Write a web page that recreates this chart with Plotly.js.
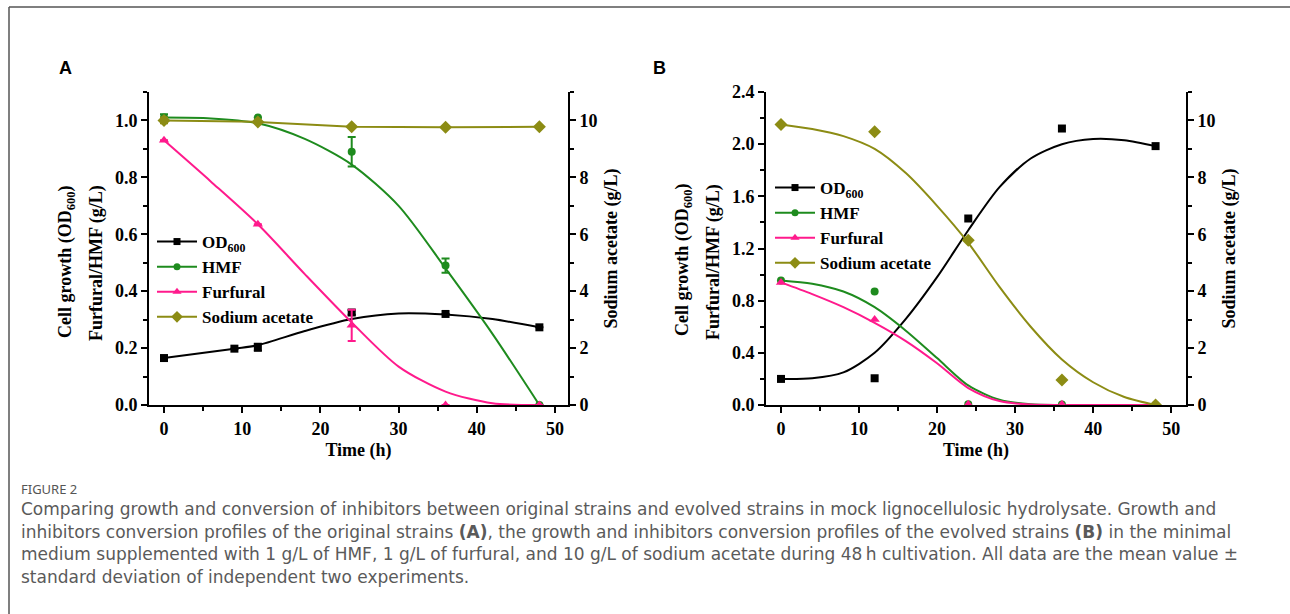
<!DOCTYPE html>
<html><head><meta charset="utf-8">
<script src="https://cdn.plot.ly/plotly-3.0.1.min.js"></script>
<style>html,body{margin:0;padding:0;background:#fff}#chart{width:1290px;height:614px}</style>
</head><body><div id="chart"></div>
<script>
// ---------- data ----------
const seriesNames = ['OD<sub>600</sub>', 'HMF', 'Furfural', 'Sodium acetate'];
const seriesColors = ['#000000', '#1E8B1E', '#FF1A8C', '#8C8C14'];
const seriesSymbols = ['square', 'circle', 'triangle-up', 'diamond'];

// Panel A (original strains) - measured points
const tA_od = [0, 9, 12, 24, 36, 48];
const odA = [0.165, 0.198, 0.203, 0.325, 0.320, 0.273];
const odA_err = [0, 0, 0.012, 0.008, 0, 0];
const tA = [0, 12, 24, 36, 48];
const hmfA = [1.010, 1.010, 0.890, 0.490, 0.000];
const hmfA_err = [0.012, 0, 0.052, 0.025, 0];
const furA = [0.930, 0.635, 0.280, 0.000, 0.000];
const furA_err = [0, 0, 0.055, 0, 0];
const naA = [10.0, 9.95, 9.78, 9.76, 9.78];
const naA_err = [0.10, 0, 0, 0, 0];
// Panel A - fitted curves
const tA_fit = [0, 6, 12, 18, 24, 30, 36, 42, 48];
const tA_odfit = [0, 9, 12, 18, 24, 30, 36, 42, 48];
const odA_fit = [0.165, 0.198, 0.210, 0.260, 0.302, 0.322, 0.318, 0.302, 0.273];
const hmfA_fit = [1.010, 1.007, 0.990, 0.935, 0.845, 0.700, 0.480, 0.250, 0.000];
const furA_fit = [0.930, 0.785, 0.635, 0.460, 0.290, 0.135, 0.047, 0.006, 0.000];

// Panel B (evolved strains) - measured points
const tB = [0, 12, 24, 36, 48];
const odB = [0.200, 0.205, 1.430, 2.120, 1.985];
const hmfB = [0.955, 0.870, 0.005, 0.003, 0.000];
const furB = [0.940, 0.655, 0.005, 0.005, 0.000];
const naB = [9.86, 9.60, 5.79, 0.88, 0.00];
// Panel B - fitted curves
const tB_fit = [0, 4, 8, 12, 16, 20, 24, 28, 32, 36, 40, 44, 48];
const odB_fit = [0.200, 0.205, 0.250, 0.400, 0.660, 0.980, 1.340, 1.670, 1.890, 2.000, 2.040, 2.030, 1.985];
const hmfB_fit = [0.955, 0.930, 0.870, 0.750, 0.570, 0.360, 0.150, 0.040, 0.005, 0.000, 0.000, 0.000, 0.000];
const furB_fit = [0.940, 0.850, 0.750, 0.630, 0.490, 0.320, 0.130, 0.030, 0.003, 0.000, 0.000, 0.000, 0.000];
const naB_fit = [9.86, 9.70, 9.45, 9.00, 8.15, 7.00, 5.70, 4.15, 2.75, 1.60, 0.80, 0.28, 0.00];

const timeTicks = [0, 10, 20, 30, 40, 50];
const leftTitleLines = ['Cell growth (OD<sub>600</sub>)', 'Furfural/HMF (g/L)'];
const rightTitle = 'Sodium acetate (g/L)';
const xTitle = 'Time (h)';

// ---------- helpers ----------
const W = 1290, H = 614;
const px = x => x / W, py = y => 1 - y / H;
const serif = 'Liberation Serif, Times New Roman, serif';

function curve(x, y, i, xa, ya, shape) {
  return {x: x, y: y, xaxis: xa, yaxis: ya, mode: 'lines', showlegend: false, hoverinfo: 'skip',
    line: {color: seriesColors[i], width: 2, shape: shape || 'spline', smoothing: 0.8}};
}
function pts(x, y, i, xa, ya, err) {
  const sizes = [8, 8, 9, 10];
  const t = {x: x, y: y, xaxis: xa, yaxis: ya, mode: 'markers', showlegend: false, name: seriesNames[i],
    marker: {symbol: seriesSymbols[i], size: sizes[i], color: seriesColors[i]}};
  if (err) t.error_y = {type: 'data', array: err, symmetric: true, color: seriesColors[i], thickness: 2, width: 4};
  return t;
}
function legendItem(i, xa, ya, lg) {
  const sizes = [7, 7, 8, 9];
  return {x: [null], y: [null], xaxis: xa, yaxis: ya, mode: 'lines+markers', name: seriesNames[i], legend: lg,
    line: {color: seriesColors[i], width: 2}, marker: {symbol: seriesSymbols[i], size: sizes[i], color: seriesColors[i]}};
}

const traces = [
  // Panel A
  curve(tA_odfit, odA_fit, 0, 'x', 'y'),
  curve(tA_fit, hmfA_fit, 1, 'x', 'y'),
  curve(tA_fit, furA_fit, 2, 'x', 'y'),
  curve(tA, naA, 3, 'x', 'y2', 'linear'),
  pts(tA, naA, 3, 'x', 'y2', naA_err),
  pts(tA_od, odA, 0, 'x', 'y', odA_err),
  pts(tA, hmfA, 1, 'x', 'y', hmfA_err),
  pts(tA, furA, 2, 'x', 'y', furA_err),
  legendItem(0, 'x', 'y', 'legend'), legendItem(1, 'x', 'y', 'legend'),
  legendItem(2, 'x', 'y', 'legend'), legendItem(3, 'x', 'y2', 'legend'),
  // Panel B
  curve(tB_fit, odB_fit, 0, 'x2', 'y3'),
  curve(tB_fit, hmfB_fit, 1, 'x2', 'y3'),
  curve(tB_fit, furB_fit, 2, 'x2', 'y3'),
  curve(tB_fit, naB_fit, 3, 'x2', 'y4'),
  pts(tB, naB, 3, 'x2', 'y4'),
  pts(tB, odB, 0, 'x2', 'y3'),
  pts(tB, hmfB, 1, 'x2', 'y3'),
  pts(tB, furB, 2, 'x2', 'y3'),
  legendItem(0, 'x2', 'y3', 'legend2'), legendItem(1, 'x2', 'y3', 'legend2'),
  legendItem(2, 'x2', 'y3', 'legend2'), legendItem(3, 'x2', 'y4', 'legend2')
];

const tickFont = {family: serif, size: 18, color: '#000', weight: 'bold'};
const titleFont = {family: serif, size: 18, color: '#000', weight: 'bold'};
const minorTicks = d => ({dtick: d, tick0: 0, ticks: 'outside', ticklen: 4, tickwidth: 2, tickcolor: '#000'});
function axis(extra) {
  return Object.assign({showline: true, linecolor: '#000', linewidth: 2, ticks: 'outside', ticklen: 6,
    tickwidth: 2, tickcolor: '#000', showgrid: false, zeroline: false, tickfont: tickFont, fixedrange: true}, extra);
}
const yDom = [py(405), py(92)];
const legendFont = {family: serif, size: 17, color: '#000', weight: 'bold'};

const layout = {
  width: W, height: H, margin: {l: 0, r: 0, t: 0, b: 0},
  paper_bgcolor: '#fff', plot_bgcolor: 'rgba(0,0,0,0)',
  xaxis: axis({domain: [px(149), px(568)], range: [-1.92, 51.66], anchor: 'y', tickvals: timeTicks,
    minor: minorTicks(5), title: {text: xTitle, font: titleFont, standoff: 6}}),
  yaxis: axis({domain: yDom, range: [0, 1.1], anchor: 'x', dtick: 0.2, tick0: 0, tickformat: '.1f', minor: minorTicks(0.1)}),
  yaxis2: axis({overlaying: 'y', side: 'right', anchor: 'x', range: [0, 11], dtick: 2, tick0: 0,
    minor: minorTicks(1), title: {text: rightTitle, font: titleFont, standoff: 8}}),
  xaxis2: axis({domain: [px(766), px(1186)], range: [-1.92, 51.9], anchor: 'y3', tickvals: timeTicks,
    minor: minorTicks(5), title: {text: xTitle, font: titleFont, standoff: 6}}),
  yaxis3: axis({domain: yDom, range: [0, 2.4], anchor: 'x2', dtick: 0.4, tick0: 0, tickformat: '.1f', minor: minorTicks(0.2)}),
  yaxis4: axis({overlaying: 'y3', side: 'right', anchor: 'x2', range: [0, 11], dtick: 2, tick0: 0,
    minor: minorTicks(1), title: {text: rightTitle, font: titleFont, standoff: 8}}),
  legend: {x: px(152), y: py(224), xanchor: 'left', yanchor: 'top', bgcolor: 'rgba(0,0,0,0)',
    font: legendFont, itemwidth: 40, traceorder: 'normal', tracegroupgap: 0},
  legend2: {x: px(770), y: py(170), xanchor: 'left', yanchor: 'top', bgcolor: 'rgba(0,0,0,0)',
    font: legendFont, itemwidth: 40, traceorder: 'normal', tracegroupgap: 0},
  shapes: [
    {type: 'line', xref: 'paper', yref: 'paper', x0: px(9), x1: 1, y0: py(7), y1: py(7), line: {color: '#555', width: 1.5}},
    {type: 'line', xref: 'paper', yref: 'paper', x0: px(9), x1: px(9), y0: py(7), y1: 0, line: {color: '#555', width: 1.5}}
  ],
  annotations: [
    {text: '<b>A</b>', xref: 'paper', yref: 'paper', x: px(57), y: py(68), xanchor: 'left', yanchor: 'middle', showarrow: false,
      font: {family: 'Liberation Sans, Arial, sans-serif', size: 18, color: '#000'}},
    {text: '<b>B</b>', xref: 'paper', yref: 'paper', x: px(651), y: py(68), xanchor: 'left', yanchor: 'middle', showarrow: false,
      font: {family: 'Liberation Sans, Arial, sans-serif', size: 18, color: '#000'}},
    {text: 'FIGURE 2', xref: 'paper', yref: 'paper', x: px(19), y: py(489), xanchor: 'left', yanchor: 'middle', showarrow: false,
      font: {family: 'Noto Sans, sans-serif', size: 13, color: '#555'}},
  ]
};

// left (two-line) y-axis titles for both panels
const leftTitlePos = [[[66, 262], [96, 263]], [[683, 260], [713, 262]]];
leftTitlePos.forEach(panel => panel.forEach((p, k) => layout.annotations.push({
  text: leftTitleLines[k], xref: 'paper', yref: 'paper', x: px(p[0]), y: py(p[1]), xanchor: 'center', yanchor: 'middle',
  textangle: -90, showarrow: false, font: titleFont
})));

const captionLines = [
  'Comparing growth and conversion of inhibitors between original strains and evolved strains in mock lignocellulosic hydrolysate. Growth and',
  'inhibitors conversion profiles of the original strains <b>(A)</b>, the growth and inhibitors conversion profiles of the evolved strains <b>(B)</b> in the minimal',
  'medium supplemented with 1 g/L of HMF, 1 g/L of furfural, and 10 g/L of sodium acetate during 48\u2009h cultivation. All data are the mean value \u00b1',
  'standard deviation of independent two experiments.'
];
const captionY = [509, 531.5, 554, 576.5];
captionLines.forEach((t, k) => layout.annotations.push({
  text: t, xref: 'paper', yref: 'paper', x: px(19), y: py(captionY[k]), xanchor: 'left', yanchor: 'middle',
  showarrow: false, align: 'left', font: {family: 'DejaVu Sans, sans-serif', size: 17, color: '#5a5a5a'}
}));

Plotly.newPlot('chart', traces, layout, {displayModeBar: false, staticPlot: true});
</script>
</body></html>
